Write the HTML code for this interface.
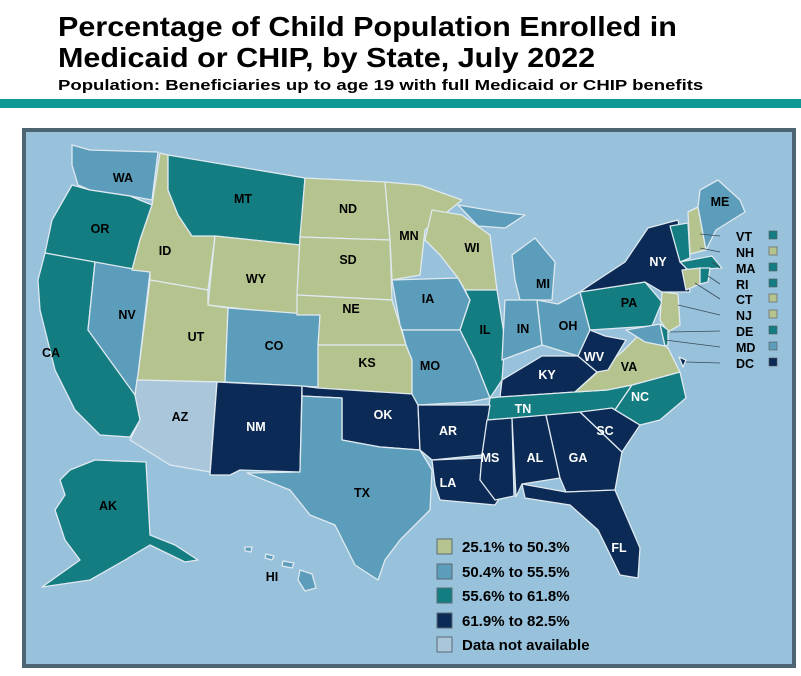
<!DOCTYPE html>
<html><head><meta charset="utf-8"><style>
html,body{margin:0;padding:0;background:#fff;width:801px;height:676px;overflow:hidden;font-family:"Liberation Sans",sans-serif}
.t{position:absolute;left:58px;font-weight:bold;color:#000;transform-origin:0 0;white-space:nowrap}
</style></head><body>
<div class="t" style="top:11px;font-size:28px;line-height:31px;transform:scaleX(1.09)">Percentage of Child Population Enrolled in<br>Medicaid or CHIP, by State, July 2022</div>
<div class="t" style="top:78px;font-size:14.5px;transform:scaleX(1.28)">Population: Beneficiaries up to age 19 with full Medicaid or CHIP benefits</div>
<div style="position:absolute;left:0;top:99px;width:801px;height:9px;background:#0f9994"></div>
<svg style="position:absolute;left:0;top:0" width="801" height="676" font-family="Liberation Sans" font-weight="bold" font-size="12.5">
<rect x="24" y="130" width="770" height="536" fill="#98c2dc" stroke="#4d6472" stroke-width="4"/>
<g stroke="#dfe9ef" stroke-width="1.3" stroke-linejoin="round">
<polygon fill="#5b9dbb" points="72,145 90,150 158,152 152,200 130,196 90,190 78,185 72,165"/>
<polygon fill="#137d82" points="72,185 90,190 130,196 152,205 140,240 132,270 45,253 52,220"/>
<polygon fill="#137d82" points="45,253 95,262 88,330 150,400 140,420 130,437 100,435 75,410 55,370 40,310 38,280"/>
<polygon fill="#5b9dbb" points="95,262 150,272 138,375 135,395 88,330"/>
<polygon fill="#b5c48f" points="160,153 168,155 168,190 178,215 192,236 215,236 208,290 150,280 150,272 132,270 140,240 152,205"/>
<polygon fill="#137d82" points="168,155 305,178 300,245 215,236 192,236 178,215 168,190"/>
<polygon fill="#b5c48f" points="215,236 300,245 297,315 208,305"/>
<polygon fill="#b5c48f" points="150,280 208,290 208,305 228,308 225,382 137,380 138,375"/>
<polygon fill="#5b9dbb" points="228,308 320,315 318,387 225,382"/>
<polygon fill="#a9c6db" points="137,380 217,382 210,472 170,465 130,440 140,420 135,395"/>
<polygon fill="#0b2a55" points="217,382 302,386 300,472 240,470 230,475 210,475"/>
<polygon fill="#b5c48f" points="305,178 385,182 390,240 300,237"/>
<polygon fill="#b5c48f" points="300,237 390,240 392,300 297,295"/>
<polygon fill="#b5c48f" points="297,295 392,300 400,325 406,345 318,345 320,315 297,315"/>
<polygon fill="#b5c48f" points="318,345 406,345 412,360 412,394 318,390"/>
<polygon fill="#0b2a55" points="302,386 318,388 412,394 418,405 420,450 380,447 342,440 342,398 302,396"/>
<polygon fill="#5b9dbb" points="302,396 342,398 342,440 380,447 420,450 432,470 430,510 400,540 385,560 378,580 355,565 335,525 310,515 290,490 247,473 300,472"/>
<polygon fill="#b5c48f" points="385,182 420,185 462,200 425,230 420,275 392,280 390,240"/>
<polygon fill="#5b9dbb" points="392,280 458,278 470,300 460,330 402,330 400,325"/>
<polygon fill="#5b9dbb" points="402,330 460,330 475,360 490,398 470,402 418,405 412,394 412,360 406,345"/>
<polygon fill="#b5c48f" points="432,210 462,215 490,235 497,290 465,290 458,278 440,255 425,240"/>
<polygon fill="#137d82" points="465,290 497,290 505,340 502,380 490,398 475,360 460,330 470,300"/>
<polygon fill="#5b9dbb" points="458,205 500,212 525,215 505,228 478,226"/>
<polygon fill="#5b9dbb" points="512,255 535,238 555,262 552,300 520,300 515,280"/>
<polygon fill="#5b9dbb" points="505,300 537,300 542,345 502,360"/>
<polygon fill="#5b9dbb" points="537,300 558,304 580,292 590,330 578,356 542,345"/>
<polygon fill="#0b2a55" points="502,380 542,356 578,356 597,372 575,392 500,397"/>
<polygon fill="#137d82" points="490,398 500,397 575,392 607,390 632,385 615,410 487,420"/>
<polygon fill="#0b2a55" points="418,405 490,405 482,455 432,460 420,450"/>
<polygon fill="#0b2a55" points="432,460 482,458 480,480 505,490 495,505 440,500 435,485"/>
<polygon fill="#0b2a55" points="487,420 512,418 514,496 495,500 480,480 482,455"/>
<polygon fill="#0b2a55" points="512,418 546,415 560,478 522,484 516,497"/>
<polygon fill="#0b2a55" points="546,415 580,412 622,452 615,490 566,492 560,478"/>
<polygon fill="#0b2a55" points="522,484 566,492 615,490 640,548 638,578 620,575 598,530 570,505 525,498"/>
<polygon fill="#0b2a55" points="580,412 612,408 640,425 622,452"/>
<polygon fill="#137d82" points="612,408 615,410 632,385 680,372 686,398 660,420 640,425"/>
<polygon fill="#b5c48f" points="575,392 607,390 632,385 680,372 668,348 642,332 622,352 600,370"/>
<polygon fill="#0b2a55" points="578,356 590,330 605,336 626,340 608,370 597,372"/>
<polygon fill="#137d82" points="580,292 645,282 662,302 652,326 590,330"/>
<polygon fill="#0b2a55" points="590,285 625,262 648,228 678,220 686,268 690,292 662,292 645,282 580,292"/>
<polygon fill="#137d82" points="670,226 688,223 690,258 680,262"/>
<polygon fill="#b5c48f" points="688,212 698,207 706,250 690,254"/>
<polygon fill="#5b9dbb" points="700,190 718,180 740,200 745,212 716,230 706,250 698,207"/>
<polygon fill="#137d82" points="680,262 712,256 722,268 688,270"/>
<polygon fill="#b5c48f" points="682,270 700,268 700,284 686,290"/>
<polygon fill="#137d82" points="700,268 710,268 708,282 700,284"/>
<polygon fill="#b5c48f" points="662,292 678,294 680,325 668,332 660,320"/>
<polygon fill="#5b9dbb" points="626,330 660,324 665,346 645,342"/>
<polygon fill="#137d82" points="660,324 668,330 668,345 665,346"/>
<polygon fill="#137d82" points="70,470 95,460 146,462 150,535 175,545 198,560 185,562 150,545 125,560 90,580 42,587 80,560 65,540 55,510 65,495 60,480"/>
<polygon fill="#5b9dbb" points="300,570 312,574 316,588 305,591 298,580"/>
<polygon fill="#5b9dbb" points="283,561 294,563 292,568 282,566"/>
<polygon fill="#5b9dbb" points="266,554 274,556 272,560 265,558"/>
<polygon fill="#5b9dbb" points="245,547 252,547 251,552 245,551"/>
<polygon fill="#0b2a55" points="679,357 686,360 683,367"/>
</g>
<g stroke="#3a4d5a" stroke-width="0.8">
<line x1="720" y1="236" x2="700" y2="234"/><line x1="720" y1="252" x2="700" y2="248"/>
<line x1="720" y1="268" x2="712" y2="262"/><line x1="720" y1="284" x2="708" y2="276"/>
<line x1="720" y1="299" x2="695" y2="283"/><line x1="720" y1="315" x2="678" y2="305"/>
<line x1="720" y1="331" x2="670" y2="332"/><line x1="720" y1="347" x2="665" y2="340"/>
<line x1="720" y1="363" x2="686" y2="362"/>
</g>
<g fill="#000">
<text x="736" y="241">VT</text><text x="736" y="257">NH</text><text x="736" y="273">MA</text>
<text x="736" y="289">RI</text><text x="736" y="304">CT</text><text x="736" y="320">NJ</text>
<text x="736" y="336">DE</text><text x="736" y="352">MD</text><text x="736" y="368">DC</text>
</g>
<g stroke="#555" stroke-width="0.6">
<rect x="769" y="231" width="8" height="8" fill="#137d82"/><rect x="769" y="247" width="8" height="8" fill="#b5c48f"/>
<rect x="769" y="263" width="8" height="8" fill="#137d82"/><rect x="769" y="279" width="8" height="8" fill="#137d82"/>
<rect x="769" y="294" width="8" height="8" fill="#b5c48f"/><rect x="769" y="310" width="8" height="8" fill="#b5c48f"/>
<rect x="769" y="326" width="8" height="8" fill="#137d82"/><rect x="769" y="342" width="8" height="8" fill="#5b9dbb"/>
<rect x="769" y="358" width="8" height="8" fill="#0b2a55"/>
</g>
<g fill="#000" text-anchor="middle">
<text x="123" y="182">WA</text><text x="100" y="233">OR</text><text x="165" y="255">ID</text>
<text x="243" y="203">MT</text><text x="256" y="283">WY</text><text x="348" y="213">ND</text>
<text x="348" y="264">SD</text><text x="351" y="313">NE</text><text x="367" y="367">KS</text>
<text x="409" y="240">MN</text><text x="472" y="252">WI</text><text x="543" y="288">MI</text>
<text x="428" y="303">IA</text><text x="430" y="370">MO</text><text x="485" y="334">IL</text>
<text x="523" y="333">IN</text><text x="568" y="330">OH</text><text x="196" y="341">UT</text>
<text x="127" y="319">NV</text><text x="51" y="357">CA</text><text x="274" y="350">CO</text>
<text x="180" y="421">AZ</text><text x="362" y="497">TX</text><text x="108" y="510">AK</text>
<text x="272" y="581">HI</text><text x="629" y="307">PA</text>
</g>
<g fill="#fff" text-anchor="middle">
<text x="256" y="431">NM</text><text x="383" y="419">OK</text><text x="448" y="435">AR</text>
<text x="448" y="487">LA</text><text x="490" y="462">MS</text><text x="535" y="462">AL</text>
<text x="578" y="462">GA</text><text x="605" y="435">SC</text><text x="640" y="401">NC</text>
<text x="547" y="379">KY</text><text x="523" y="413">TN</text><text x="594" y="361">WV</text>
<text x="629" y="371" fill="#000">VA</text><text x="658" y="266">NY</text><text x="619" y="552">FL</text>
<text x="720" y="206" fill="#000">ME</text>
</g>
<g stroke="#5a6a75" stroke-width="1">
<rect x="437" y="539" width="15" height="15" fill="#b5c48f"/>
<rect x="437" y="564" width="15" height="15" fill="#5b9dbb"/>
<rect x="437" y="588" width="15" height="15" fill="#137d82"/>
<rect x="437" y="613" width="15" height="15" fill="#0b2a55"/>
<rect x="437" y="637" width="15" height="15" fill="#a9c6db"/>
</g>
<g fill="#000" font-size="15" style="font-weight:600">
<text x="462" y="552">25.1% to 50.3%</text>
<text x="462" y="577">50.4% to 55.5%</text>
<text x="462" y="601">55.6% to 61.8%</text>
<text x="462" y="626">61.9% to 82.5%</text>
<text x="462" y="650">Data not available</text>
</g>
</svg>
</body></html>
